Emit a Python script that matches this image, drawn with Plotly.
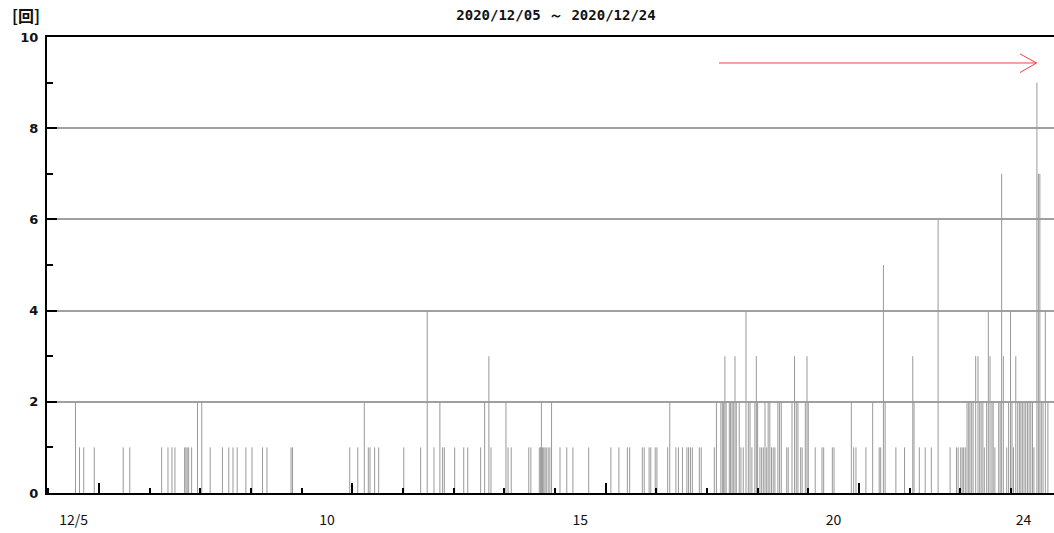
import plotly.graph_objects as go

# ---- data: event counts, x = hours since 2020/12/05 00:00 ----
event_hours = [
    12.9, 14.8, 16.8, 21.8, 35.5, 38.6, 53.7, 56.7, 58.6, 60.0, 64.6, 65.2, 65.8, 66.5, 67.9, 70.7, 72.7, 76.7, 82.5, 85.5, 87.5, 89.5, 93.6,
    96.5, 101.5, 103.6, 115.0, 115.7, 142.8, 146.6, 149.7, 151.6, 152.4, 154.6, 156.5, 168.4, 176.4, 179.5, 182.7, 185.5, 186.8, 187.6,
    192.5, 196.8, 198.7, 204.8, 206.7, 208.7, 209.7, 216.8, 217.8, 219.3, 227.6, 228.6, 232.6, 233.2, 233.6, 234.1, 234.7, 235.3, 235.9,
    236.8, 237.6, 238.4, 242.4, 245.6, 248.5, 256.0, 266.5, 270.3, 274.3, 275.4, 281.4, 282.3,
    284.6, 285.4, 287.5, 288.3, 293.4, 294.4, 297.3, 298.5, 300.4, 302.5, 303.3, 304.2, 305.1, 308.4, 309.3, 315.5, 316.5, 318.6, 319.3,
    319.9, 320.5, 321.1, 322.6, 323.2, 323.9, 324.5, 325.3, 325.9, 327.3, 328.1, 329.2, 330.5, 331.6, 332.4, 333.3, 334.7, 335.4, 336.0,
    337.1, 337.9, 338.7, 339.5, 340.3, 341.0, 341.8, 342.6, 343.4, 344.2, 345.6, 346.4, 347.2, 349.8, 350.5, 352.3, 353.5, 354.3, 355.1,
    356.4, 357.1, 358.6, 359.4, 360.0, 363.3, 366.5, 367.3, 371.4, 372.2,
    380.4, 381.5, 382.6, 387.3, 390.5, 393.6, 394.3, 395.6, 396.4, 401.5, 405.6, 409.5, 410.1, 412.6, 415.4, 418.3, 421.5, 427.2, 430.2,
    431.0, 432.2, 432.9, 433.6, 434.4, 435.2, 436.0, 436.6, 437.4, 438.1, 439.3, 440.4, 441.2, 441.9, 442.7, 443.4, 444.5, 445.3, 446.1,
    447.0, 447.6, 448.4, 450.2, 450.9, 451.6, 452.4, 454.0, 454.9, 455.8, 456.5, 457.2, 458.3, 459.2, 460.0, 460.7, 461.4, 462.2, 463.0,
    463.8, 464.6, 465.4, 466.2, 466.9, 468.3, 469.0, 469.7, 470.4, 471.2, 472.3, 473.5,
]
event_counts = [
    2, 1, 1, 1, 1, 1, 1, 1, 1, 1, 1, 1, 1, 1, 1, 2, 2, 1, 1, 1, 1, 1, 1,
    1, 1, 1, 1, 1, 1, 1, 2, 1, 1, 1, 1, 1, 1, 4, 1, 2, 1, 1,
    1, 1, 1, 1, 2, 3, 1, 2, 1, 1, 1, 1, 1, 1, 2, 1, 1, 1, 1,
    1, 1, 2, 1, 1, 1, 1, 1, 1, 1, 1, 1, 1,
    1, 1, 1, 1, 1, 2, 1, 1, 1, 1, 1, 1, 1, 1, 1, 1, 2, 2, 2,
    2, 3, 2, 2, 2, 2, 2, 3, 2, 2, 1, 1, 4, 2, 2, 1, 2, 3, 2,
    1, 1, 1, 2, 1, 2, 2, 1, 1, 1, 2, 2, 2, 1, 1, 2, 3, 2, 2,
    1, 1, 2, 3, 2, 1, 1, 1, 1, 1,
    2, 1, 1, 1, 2, 1, 1, 5, 2, 1, 1, 3, 2, 1, 1, 1, 6, 1, 1,
    1, 1, 1, 1, 1, 2, 2, 2, 2, 2, 3, 3, 2, 2, 2, 1, 2, 4, 3,
    2, 2, 1, 2, 2, 7, 3, 1, 2, 4, 2, 1, 3, 2, 2, 2, 2, 2, 2,
    2, 2, 2, 2, 1, 9, 7, 7, 2, 2, 4, 2,
]

tick_label_hours = [12, 132, 252, 372, 462]
tick_labels = ["12/5", "10", "15", "20", "24"]
y_ticks = [0, 2, 4, 6, 8, 10]
title_text = "2020/12/05 ～ 2020/12/24"
y_unit = "[回]"

# build vertical line segments from the data
seg_x, seg_y = [], []
for h, c in zip(event_hours, event_counts):
    seg_x += [h, h, None]
    seg_y += [0, c, None]

fig = go.Figure()
fig.add_trace(go.Scatter(
    x=seg_x, y=seg_y, mode="lines",
    line=dict(color="#999999", width=1),
    hoverinfo="skip", showlegend=False,
))
# empty helper trace so the label axis (x2) is drawn
fig.add_trace(go.Scatter(x=[], y=[], xaxis="x2", yaxis="y", mode="lines",
                         hoverinfo="skip", showlegend=False))

fig.update_layout(
    width=1054, height=533,
    margin=dict(l=47, r=0, t=37, b=40, autoexpand=False),
    showlegend=False,
    paper_bgcolor="white", plot_bgcolor="white",
    title=dict(text=title_text, x=556 / 1054, xanchor="center", xref="container",
               y=1 - 15 / 533, yanchor="middle", yref="container", automargin=False,
               font=dict(family="DejaVu Sans Mono", size=14, color="#111", weight="bold")),
    xaxis=dict(
        range=[-0.6, 476.4], showgrid=False, zeroline=False, automargin=False,
        showline=True, linecolor="black", linewidth=2, mirror=True,
        ticks="inside", tick0=24, dtick=120, ticklen=10, tickwidth=2, tickcolor="black",
        showticklabels=False,
        minor=dict(ticks="inside", ticklen=5, tickwidth=2, tickcolor="black", tick0=0, dtick=24),
    ),
    xaxis2=dict(
        overlaying="x", matches="x", anchor="y", side="bottom", automargin=False,
        tickmode="array", tickvals=tick_label_hours, ticktext=tick_labels,
        ticks="", showline=False, showgrid=False, zeroline=False,
        tickfont=dict(family="Noto Sans CJK JP", size=14, color="#111"),
        ticklabelstandoff=17,
    ),
    yaxis=dict(
        range=[0, 10], tickmode="array", tickvals=y_ticks, automargin=False,
        showgrid=True, gridcolor="#a0a0a0", gridwidth=1.5, zeroline=False,
        showline=True, linecolor="black", linewidth=2,
        ticks="inside", ticklen=10, tickwidth=2, tickcolor="black",
        minor=dict(ticks="inside", ticklen=6, tickwidth=2, tickcolor="black", tick0=0, dtick=1),
        tickfont=dict(family="DejaVu Sans", size=13, color="#111", weight="bold"),
        ticklabelstandoff=4,
    ),
    annotations=[dict(text=y_unit, xref="paper", yref="paper", x=-0.021, y=1 + 22 / 456,
                      xanchor="center", yanchor="middle", showarrow=False,
                      font=dict(family="Noto Sans CJK JP", size=16, color="#111", weight="bold"))],
    shapes=[
        dict(type="line", xref="x", yref="y", x0=317.7, x1=468.1, y0=9.43, y1=9.43,
             line=dict(color="#f04040", width=1)),
        dict(type="path", xref="x", yref="y", path="M 460.3 9.63 L 468.1 9.43 L 460.3 9.22",
             line=dict(color="#f04040", width=1)),
    ],
)

fig.write_html(
    "out.html",
    config={"displayModeBar": False},
    post_script="document.body.style.margin='0';document.body.style.padding='0';document.body.style.overflow='hidden';",
)
